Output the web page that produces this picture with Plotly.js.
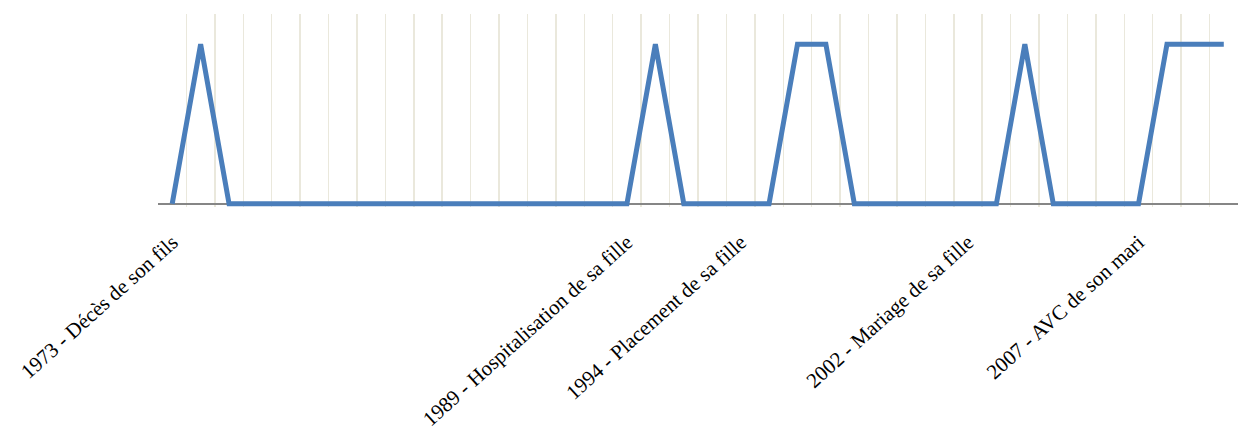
<!DOCTYPE html>
<html>
<head>
<meta charset="utf-8">
<script src="https://cdn.plot.ly/plotly-3.0.1.min.js"></script>
<style>html,body{margin:0;padding:0;background:#fff;}#chart{width:1242px;height:434px;}</style>
</head>
<body>
<div id="chart"></div>
<script>
// 38 categories; only some carry a label
const categories = [
  "1973 - Décès de son fils", "", "", "", "", "", "", "", "", "", "", "", "", "", "", "",
  "1989 - Hospitalisation de sa fille", "", "", "",
  "1994 - Placement de sa fille", "", "", "", "", "", "", "",
  "2002 - Mariage de sa fille", "", "", "", "", "",
  "2007 - AVC de son mari", "", "", ""
];
const values = [
  0, 1, 0, 0, 0, 0, 0, 0, 0, 0, 0, 0, 0, 0, 0, 0,
  0, 1, 0, 0,
  0, 0, 1, 1, 0, 0, 0, 0,
  0, 0, 1, 0, 0, 0,
  0, 1, 1, 1
];

const xs = categories.map((_, i) => i);
const tickvals = [], ticktext = [];
categories.forEach((c, i) => { if (c) { tickvals.push(i); ticktext.push(c); } });

const trace = {
  x: xs, y: values, type: 'scatter', mode: 'lines',
  line: {color: '#4A7EBB', width: 5},
  hoverinfo: 'skip'
};

const layout = {
  width: 1242, height: 434,
  margin: {l: 158, r: 4, t: 14, b: 227},
  paper_bgcolor: '#ffffff', plot_bgcolor: '#ffffff',
  showlegend: false,
  font: {family: '"Liberation Serif", "Times New Roman", serif', size: 21, color: '#000000'},
  xaxis: {
    range: [-0.5, 37.5],
    tickmode: 'array', tickvals: tickvals, ticktext: ticktext,
    tickangle: -42, ticks: '', ticklabelstandoff: 18,
    showgrid: false, zeroline: false, showline: false,
    minor: {tick0: -0.5, dtick: 1, showgrid: true, gridcolor: '#EAE8DC', gridwidth: 1.5, ticks: ''},
    tickfont: {family: '"Liberation Serif", "Times New Roman", serif', size: 21, color: '#000000'}
  },
  yaxis: {
    range: [-0.02, 1.19],
    showticklabels: false, ticks: '', showgrid: false,
    zeroline: true, zerolinecolor: '#868686', zerolinewidth: 1.5, showline: false
  }
};

Plotly.newPlot('chart', [trace], layout, {displayModeBar: false, staticPlot: true});
</script>
</body>
</html>
